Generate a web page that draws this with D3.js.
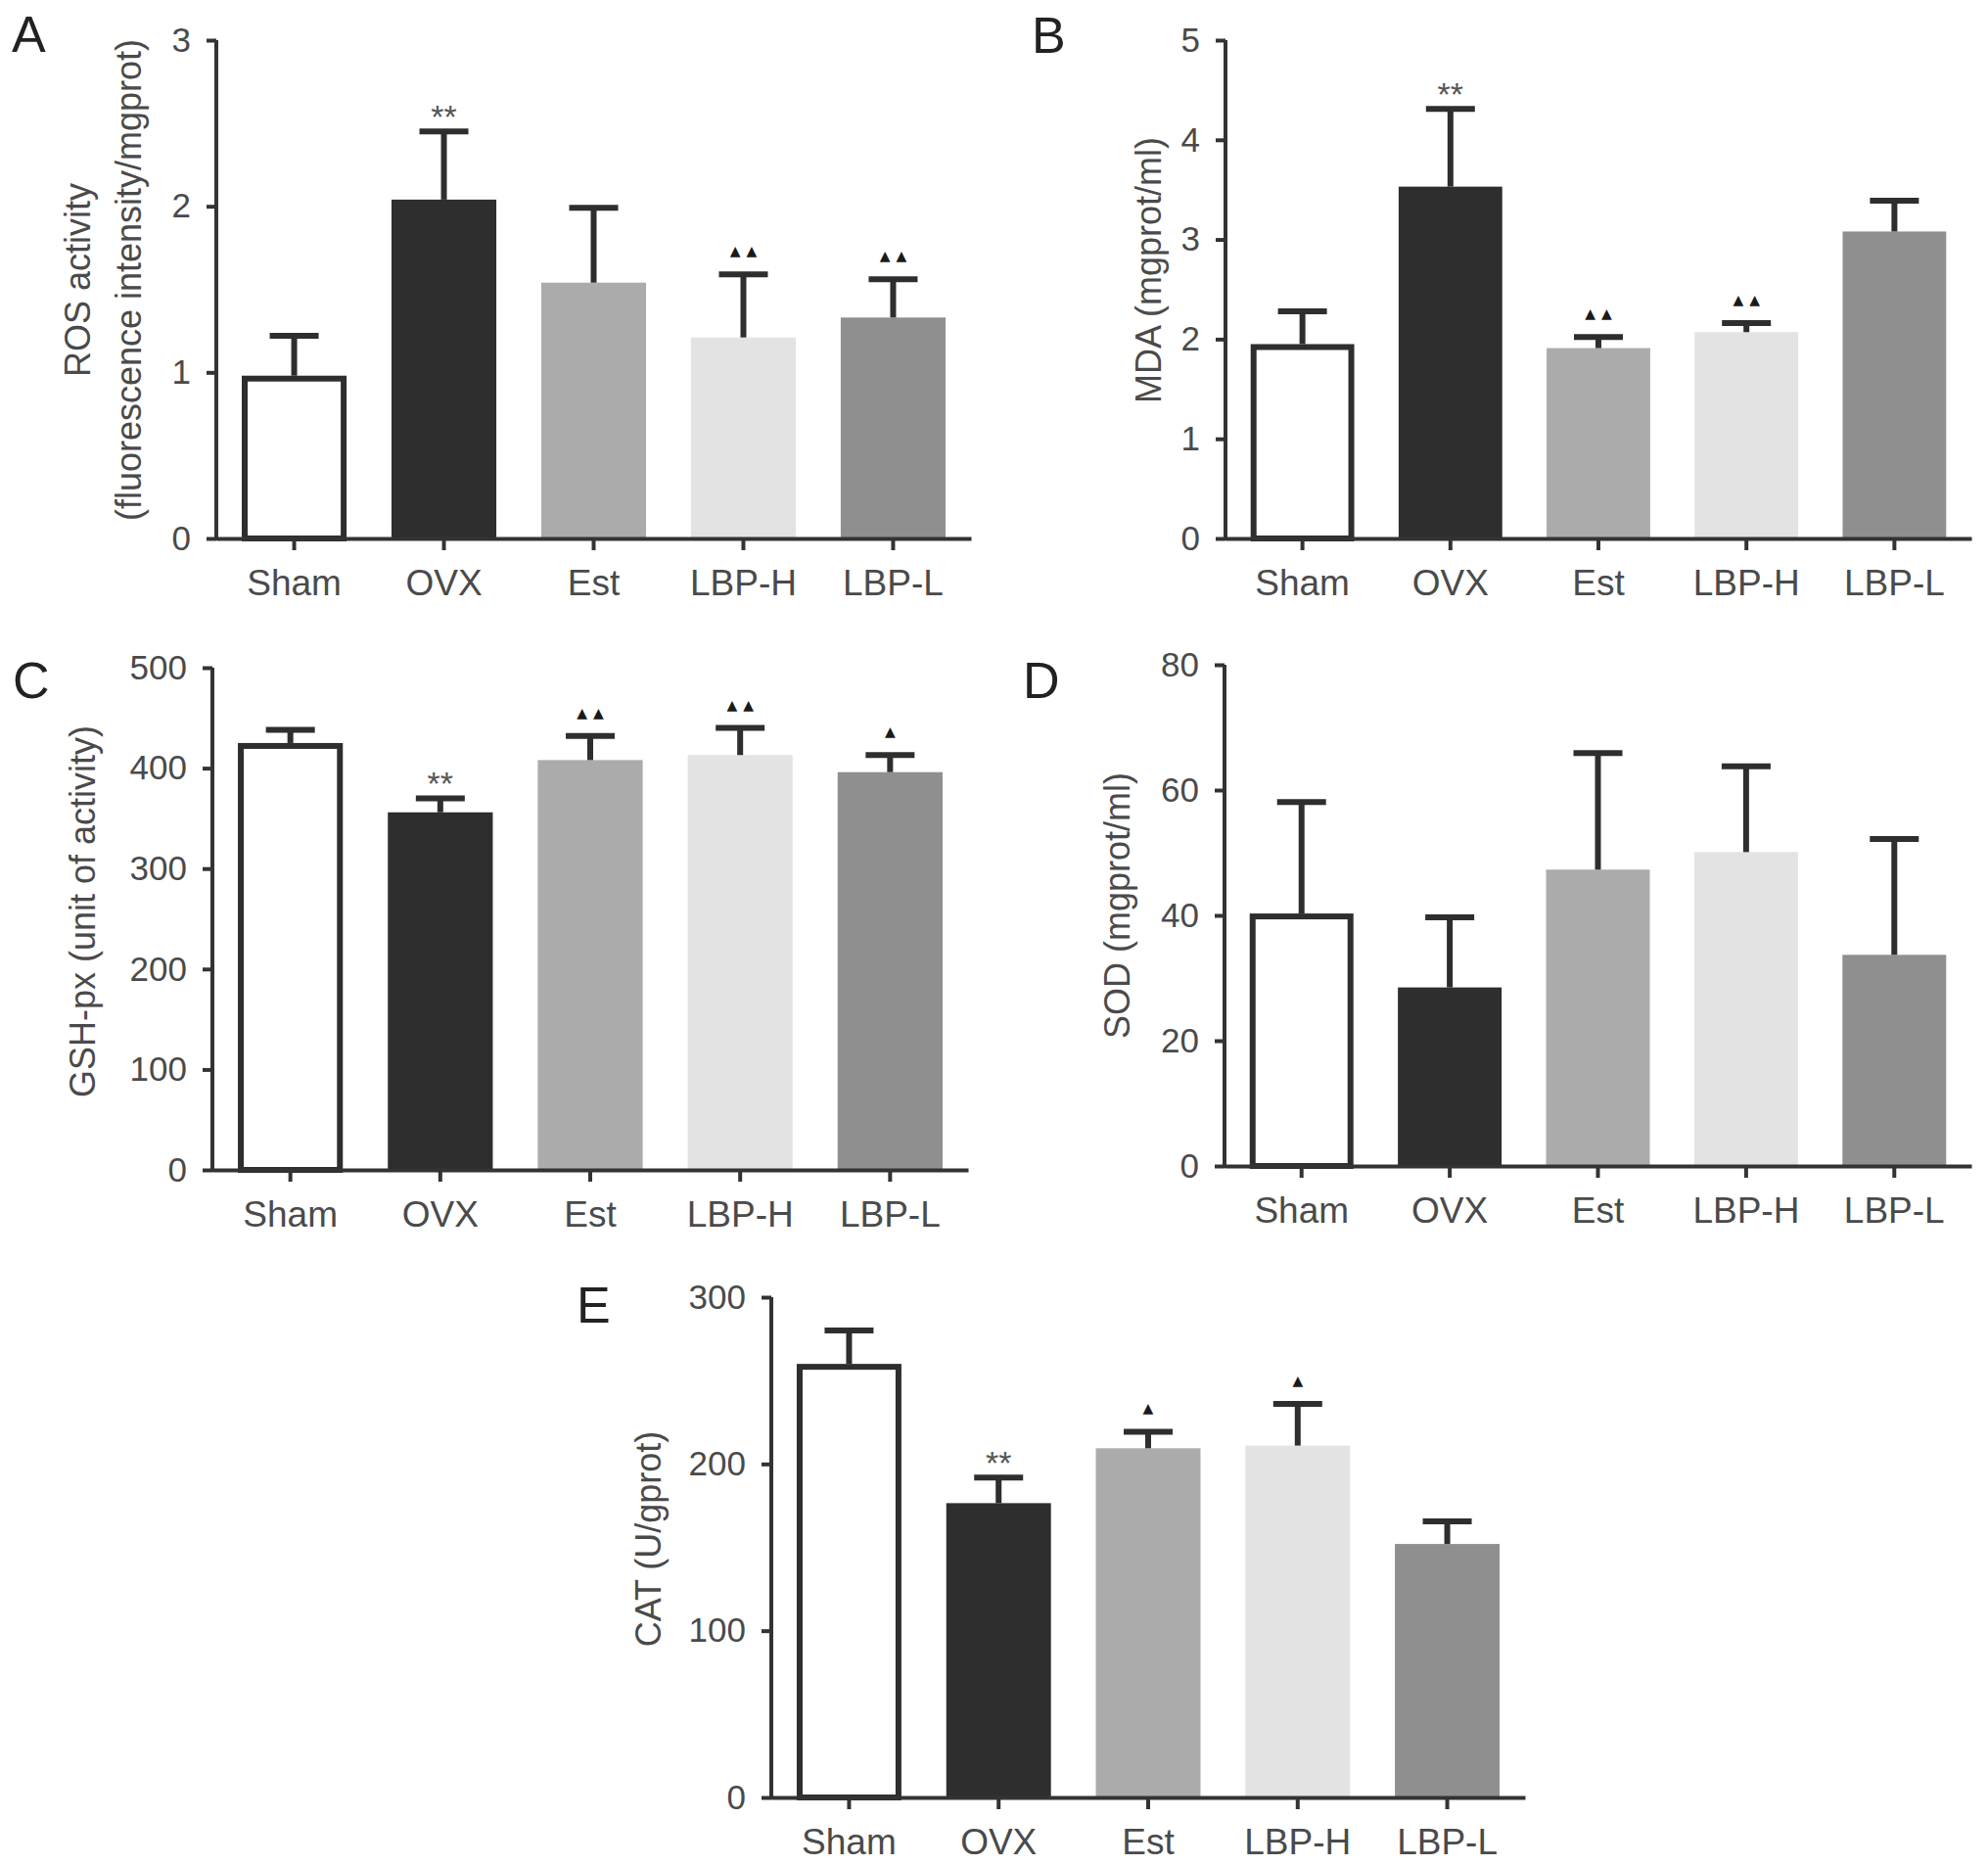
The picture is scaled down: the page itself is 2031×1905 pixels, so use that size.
<!DOCTYPE html>
<html>
<head>
<meta charset="utf-8">
<script src="https://cdn.jsdelivr.net/npm/d3@7"></script>
<style>
  body { margin: 0; background: #fff; }
  text { font-family: "Liberation Sans", Arial, sans-serif; }
</style>
</head>
<body>
<script>
// groups on every x axis
var groups = ["Sham", "OVX", "Est", "LBP-H", "LBP-L"];

// A: ROS
var rosMean = [0.98, 2.04, 1.54, 1.21, 1.33];
var rosSD = [0.24, 0.41, 0.45, 0.38, 0.23];
var rosMarks = ["", "**", "", "▲▲", "▲▲"];
var rosTicks = [0, 1, 2, 3];

// B: MDA
var mdaMean = [1.95, 3.53, 1.91, 2.07, 3.08];
var mdaSD = [0.33, 0.78, 0.11, 0.09, 0.31];
var mdaMarks = ["", "**", "▲▲", "▲▲", ""];
var mdaTicks = [0, 1, 2, 3, 4, 5];

// C: GSH-px
var gshMean = [425, 356, 408, 413, 396];
var gshSD = [13, 14, 24, 27, 17];
var gshMarks = ["", "**", "▲▲", "▲▲", "▲"];
var gshTicks = [0, 100, 200, 300, 400, 500];

// D: SOD
var sodMean = [40.3, 28.5, 47.3, 50.1, 33.7];
var sodSD = [17.8, 11.2, 18.6, 13.7, 18.5];
var sodMarks = ["", "", "", "", ""];
var sodTicks = [0, 20, 40, 60, 80];

// E: CAT
var catMean = [260, 176.5, 209.4, 211, 152];
var catSD = [20, 15.3, 9.9, 25, 13.6];
var catMarks = ["", "**", "▲", "▲", ""];
var catTicks = [0, 100, 200, 300];

var fills = ["#ffffff", "#2e2e2e", "#ababab", "#e3e3e3", "#8f8f8f"];
var ink = "#2e2e2e";
var textGray = "#4a4a4a";

var svg = d3.select("body").append("svg")
    .attr("width", 2031)
    .attr("height", 1905);

function drawPanel(p) {
    var x = d3.scaleBand()
        .domain(groups)
        .range([p.x0, p.x1])
        .paddingInner(0.3)
        .paddingOuter(0.17);

    var y = d3.scaleLinear()
        .domain([0, p.yMax])
        .range([p.yZero, p.yTop]);

    var g = svg.append("g");

    var rows = groups.map(function (name, i) {
        return { name: name, mean: p.mean[i], sd: p.sd[i], mark: p.marks[i], fill: fills[i] };
    });

    // bars (Sham is an outlined bar)
    g.selectAll("rect.bar")
        .data(rows)
        .enter()
        .append("rect")
        .attr("class", "bar")
        .attr("x", function (d, i) { return i === 0 ? x(d.name) + 3 : x(d.name); })
        .attr("width", function (d, i) { return i === 0 ? x.bandwidth() - 6 : x.bandwidth(); })
        .attr("y", function (d, i) { return i === 0 ? y(d.mean) + 3 : y(d.mean); })
        .attr("height", function (d, i) { return i === 0 ? y(0) - y(d.mean) - 3 : y(0) - y(d.mean); })
        .attr("fill", function (d) { return d.fill; })
        .attr("stroke", function (d, i) { return i === 0 ? ink : "none"; })
        .attr("stroke-width", 6);

    // error bars, upper half only
    var cx = function (d) { return x(d.name) + x.bandwidth() / 2; };
    g.selectAll("line.err")
        .data(rows)
        .enter()
        .append("line")
        .attr("x1", cx).attr("x2", cx)
        .attr("y1", function (d) { return y(d.mean); })
        .attr("y2", function (d) { return y(d.mean + d.sd); })
        .attr("stroke", ink)
        .attr("stroke-width", 6);

    g.selectAll("line.cap")
        .data(rows)
        .enter()
        .append("line")
        .attr("x1", function (d) { return cx(d) - 25; })
        .attr("x2", function (d) { return cx(d) + 25; })
        .attr("y1", function (d) { return y(d.mean + d.sd); })
        .attr("y2", function (d) { return y(d.mean + d.sd); })
        .attr("stroke", ink)
        .attr("stroke-width", 6);

    // significance marks
    g.selectAll("text.mark")
        .data(rows.filter(function (d) { return d.mark !== ""; }))
        .enter()
        .append("text")
        .attr("x", function (d) { return d.mark.charAt(0) === "*" ? cx(d) : cx(d) + 3; })
        .attr("y", function (d) { return d.mark.charAt(0) === "*" ? y(d.mean + d.sd) - 3 : y(d.mean + d.sd) - 19; })
        .attr("text-anchor", "middle")
        .style("font-family", function (d) { return d.mark.charAt(0) === "*" ? null : "'DejaVu Sans'"; })
        .style("font-size", function (d) { return d.mark.charAt(0) === "*" ? "34px" : "14px"; })
        .style("letter-spacing", function (d) { return d.mark.charAt(0) === "*" ? null : "6px"; })
        .attr("fill", function (d) { return d.mark.charAt(0) === "*" ? "#555" : "#1a1a1a"; })
        .text(function (d) { return d.mark; });

    // axes
    var yAxis = d3.axisLeft(y)
        .tickValues(p.ticks)
        .tickFormat(d3.format("d"))
        .tickSize(10)
        .tickSizeOuter(0)
        .tickPadding(16);

    var xAxis = d3.axisBottom(x)
        .tickSize(12)
        .tickSizeOuter(0)
        .tickPadding(20);

    var ya = g.append("g")
        .attr("transform", "translate(" + p.x0 + ",0)")
        .call(yAxis);
    ya.select(".domain").attr("stroke", "#333").attr("stroke-width", 4)
        .attr("d", "M0," + (p.yTop) + "V" + (p.yZero + 2));
    ya.selectAll(".tick line").attr("stroke", "#333").attr("stroke-width", 4);
    ya.selectAll(".tick text")
        .attr("fill", textGray)
        .style("font-size", "35px")
        .style("font-family", "'Liberation Sans', Arial, sans-serif");

    var xa = g.append("g")
        .attr("transform", "translate(0," + p.yZero + ")")
        .call(xAxis);
    xa.select(".domain").attr("stroke", "#333").attr("stroke-width", 4);
    xa.selectAll(".tick line").attr("stroke", "#333").attr("stroke-width", 4);
    xa.selectAll(".tick text")
        .attr("fill", textGray)
        .style("font-size", "37px")
        .style("font-family", "'Liberation Sans', Arial, sans-serif");

    // y title (rotated, one or two lines)
    var t = g.append("text")
        .attr("transform", "translate(" + p.titleX + "," + p.titleY + ") rotate(-90)")
        .attr("text-anchor", "middle")
        .attr("fill", textGray)
        .style("font-size", "36px");
    p.title.forEach(function (line, i) {
        t.append("tspan")
            .attr("x", 0)
            .attr("y", i * 52)
            .text(line);
    });

    // panel letter
    g.append("text")
        .attr("x", p.letterX)
        .attr("y", p.letterY)
        .attr("fill", "#222")
        .style("font-size", "52px")
        .text(p.letter);
}

drawPanel({
    letter: "A", letterX: 12, letterY: 53,
    title: ["ROS activity", "(fluorescence intensity/mgprot)"], titleX: 92, titleY: 286,
    mean: rosMean, sd: rosSD, marks: rosMarks, ticks: rosTicks, yMax: 3,
    x0: 221, x1: 992, yTop: 41, yZero: 550
});

drawPanel({
    letter: "B", letterX: 1054, letterY: 54,
    title: ["MDA (mgprot/ml)"], titleX: 1186, titleY: 276,
    mean: mdaMean, sd: mdaSD, marks: mdaMarks, ticks: mdaTicks, yMax: 5,
    x0: 1252, x1: 2014, yTop: 41, yZero: 550
});

drawPanel({
    letter: "C", letterX: 13, letterY: 713,
    title: ["GSH-px (unit of activity)"], titleX: 97, titleY: 931,
    mean: gshMean, sd: gshSD, marks: gshMarks, ticks: gshTicks, yMax: 500,
    x0: 217, x1: 989, yTop: 682, yZero: 1195
});

drawPanel({
    letter: "D", letterX: 1045, letterY: 713,
    title: ["SOD (mgprot/ml)"], titleX: 1154, titleY: 925,
    mean: sodMean, sd: sodSD, marks: sodMarks, ticks: sodTicks, yMax: 80,
    x0: 1251, x1: 2014, yTop: 679, yZero: 1191
});

drawPanel({
    letter: "E", letterX: 589, letterY: 1351,
    title: ["CAT (U/gprot)"], titleX: 675, titleY: 1572,
    mean: catMean, sd: catSD, marks: catMarks, ticks: catTicks, yMax: 300,
    x0: 788, x1: 1558, yTop: 1325, yZero: 1836
});
</script>
</body>
</html>
